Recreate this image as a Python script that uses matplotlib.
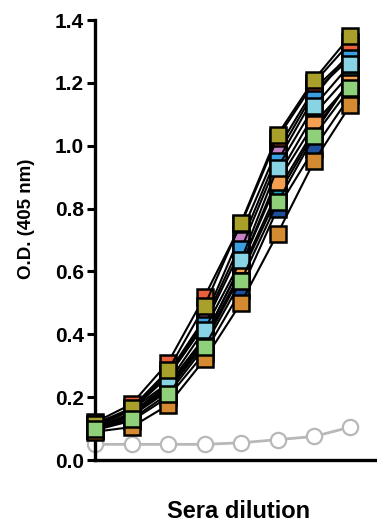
import matplotlib
matplotlib.use('Agg')
import matplotlib.pyplot as plt

plt.rcParams['font.family'] = ['Liberation Sans', 'DejaVu Sans']

# dilution steps (no tick labels on the x axis)
dilution = [1, 2, 3, 4, 5, 6, 7, 8]

# sera samples, values (listed in drawing order)
colors = ['#222222', '#8a5a30', '#1aa8b8', '#9a5cb0', '#c883c8', '#3aa0e0', '#f5a050',
          '#88d4e4', '#1e4e9c', '#d48a30', '#e8603c', '#a8a02a', '#8fd07a']
samples = [
    [0.10, 0.15, 0.24, 0.39, 0.62, 0.90, 1.10, 1.23],
    [0.095, 0.14, 0.22, 0.37, 0.59, 0.84, 1.04, 1.21],
    [0.10, 0.145, 0.225, 0.38, 0.60, 0.855, 1.05, 1.21],
    [0.11, 0.16, 0.27, 0.44, 0.69, 0.97, 1.17, 1.28],
    [0.11, 0.165, 0.275, 0.45, 0.72, 0.99, 1.18, 1.29],
    [0.105, 0.16, 0.265, 0.43, 0.67, 0.95, 1.155, 1.30],
    [0.10, 0.15, 0.23, 0.39, 0.62, 0.885, 1.07, 1.20],
    [0.105, 0.16, 0.245, 0.415, 0.635, 0.93, 1.125, 1.26],
    [0.095, 0.125, 0.20, 0.34, 0.54, 0.80, 0.99, 1.16],
    [0.09, 0.105, 0.175, 0.32, 0.50, 0.72, 0.95, 1.13],
    [0.12, 0.178, 0.31, 0.52, 0.75, 1.025, 1.20, 1.33],
    [0.115, 0.165, 0.285, 0.49, 0.755, 1.035, 1.21, 1.35],
    [0.10, 0.13, 0.21, 0.36, 0.57, 0.82, 1.03, 1.185],
]

# negative control serum
control = [0.05, 0.05, 0.05, 0.05, 0.055, 0.065, 0.075, 0.105]

fig = plt.figure(figsize=(3.77, 5.27), dpi=100)
ax = fig.add_axes([0.252, 0.127, 0.76, 0.835])

ax.plot(dilution, control, color='#b8b8b8', lw=2, marker='o', ms=11,
        mfc='white', mec='#b8b8b8', mew=1.6, clip_on=False, zorder=2)

for c, vals in zip(colors, samples):
    ax.plot(dilution, vals, color='black', lw=1.5, marker='s', ms=11,
            mfc=c, mec='black', mew=1.8, clip_on=False, zorder=3)

ax.set_xlim(1, 8.85)
ax.set_ylim(0, 1.4)
ax.set_yticks([0, 0.2, 0.4, 0.6, 0.8, 1.0, 1.2, 1.4])
ax.set_yticklabels(['0.0', '0.2', '0.4', '0.6', '0.8', '1.0', '1.2', '1.4'],
                   fontsize=15, fontweight='bold')
ax.set_xticks([])
ax.tick_params(axis='y', length=6, width=2.2, pad=2)

for s in ['top', 'right']:
    ax.spines[s].set_visible(False)
for s in ['left', 'bottom']:
    ax.spines[s].set_linewidth(2.4)

ax.set_ylabel('O.D. (405 nm)', fontsize=13.5, fontweight='bold')
ax.yaxis.set_label_coords(-0.209, 0.548)
ax.set_xlabel('Sera dilution', fontsize=17, fontweight='bold')
ax.xaxis.set_label_coords(0.5, -0.09)

fig.savefig('out.png', dpi=100)
